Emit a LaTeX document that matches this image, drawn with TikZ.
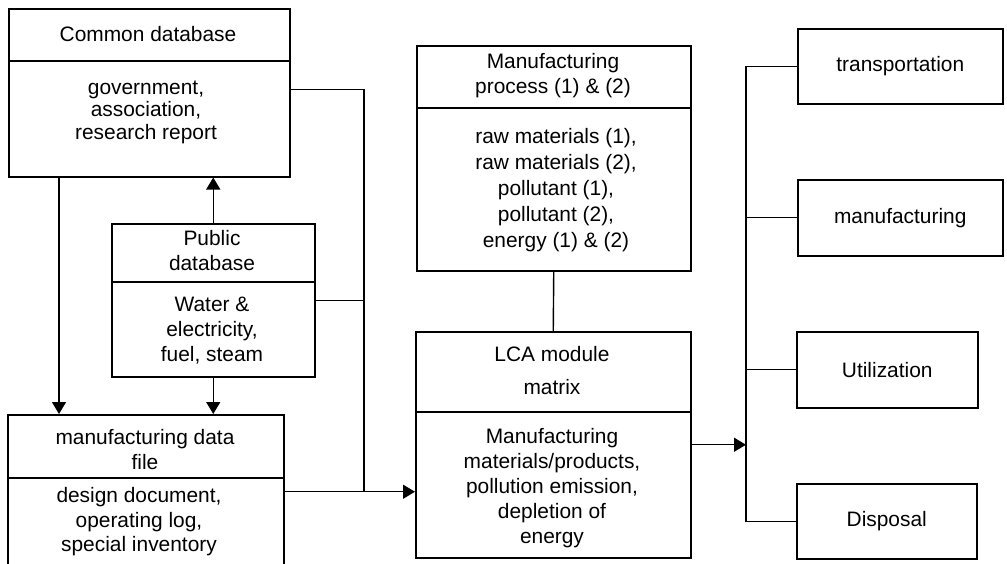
\documentclass[tikz,border=0pt]{standalone}
\usepackage{fontspec}
\setmainfont{Liberation Sans}
\usetikzlibrary{arrows.meta}
\begin{document}
\begin{tikzpicture}[x=1pt,y=-1pt,
  box/.style={draw, line width=1.5pt, inner sep=0pt, anchor=north west},
  lbl/.style={align=center, inner sep=0pt, font=\fontsize{20.9}{25}\selectfont},
  tight/.style={font=\fontsize{20.9}{22.5}\selectfont},
  loose/.style={font=\fontsize{20.9}{26.2}\selectfont},
  rule/.style={line width=1.2pt},
  wire/.style={line width=1.4pt},
  arr/.style={wire, -{Triangle[length=12pt,width=14pt]}},
]
\useasboundingbox (0,0) rectangle (1007,563);
\clip (0,0) rectangle (1007,563);
\fill[white] (0,0) rectangle (1007,563);

% left column: data sources
\node[box, minimum width=281pt, minimum height=168pt] (cdb) at (8,8) {};
\draw[rule] ([yshift=-53pt]cdb.north west) -- ([yshift=-53pt]cdb.north east);
\node[lbl] (cdbT) at (148,34) {Common database};
\node[lbl, tight] (cdbB) at (146,112) {government,\\association,\\research report};

\node[box, minimum width=203pt, minimum height=153pt] (pdb) at (111,223) {};
\draw[rule] ([yshift=-59pt]pdb.north west) -- ([yshift=-59pt]pdb.north east);
\node[lbl] (pdbT) at (212,251) {Public\\database};
\node[lbl] (pdbB) at (212,331) {Water \&\\electricity,\\fuel, steam};

\node[box, minimum width=276pt, minimum height=154pt] (mdf) at (7,414) {};
\draw[rule] ([yshift=-64pt]mdf.north west) -- ([yshift=-64pt]mdf.north east);
\node[lbl] (mdfT) at (145,450) {manufacturing data\\file};
\node[lbl, font=\fontsize{20.9}{24.5}\selectfont] (mdfB) at (139,522) {design document,\\operating log,\\special inventory};

% middle column: process and LCA module
\node[box, minimum width=274pt, minimum height=225pt] (mp) at (416,45) {};
\draw[rule] ([yshift=-63pt]mp.north west) -- ([yshift=-63pt]mp.north east);
\node[lbl] (mpT) at (553,76) {Manufacturing\\process (1) \& (2)};
\node[lbl, loose] (mpB) at (556,190) {raw materials (1),\\raw materials (2),\\pollutant (1),\\pollutant (2),\\energy (1) \& (2)};

\node[box, minimum width=275pt, minimum height=226pt] (lca) at (415,331) {};
\draw[rule] ([yshift=-81pt]lca.north west) -- ([yshift=-81pt]lca.north east);
\node[lbl] (lcaT) at (552,371) {LCA module\\[8pt]matrix};
\node[lbl] (lcaB) at (552,488) {Manufacturing\\materials/products,\\pollution emission,\\depletion of\\energy};

% right column: life-cycle stages
\node[box, lbl, minimum width=205pt, minimum height=75pt] (tr) at (797,28) {transportation};
\node[box, lbl, minimum width=205pt, minimum height=76pt] (mf) at (797,179) {manufacturing};
\node[box, lbl, minimum width=181pt, minimum height=76pt] (ut) at (796,331) {Utilization};
\node[box, lbl, minimum width=180pt, minimum height=75pt] (dp) at (796,483) {Disposal};

% connectors
\coordinate (jn) at (364,491);
\coordinate (bar) at (746,66);

\draw[arr] ([xshift=51pt]cdb.south west) -- ([xshift=52pt]mdf.north west);
\draw[arr] (pdb.north) -- (pdb.north |- cdb.south);
\draw[arr] (pdb.south) -- (pdb.south |- mdf.north);
\draw[wire] ([yshift=3pt]cdb.east) -| (jn);
\draw[wire] (pdb.east) -- (pdb.east -| jn);
\draw[arr] (mdf.east) -- (mdf.east -| lca.west);
\draw[wire] (mp.south) -- (lca.north);

\draw[wire] (tr.west) -- (tr.west -| bar) -- (dp.west -| bar) -- (dp.west);
\draw[wire] (mf.west) -- (mf.west -| bar);
\draw[wire] (ut.west) -- (ut.west -| bar);
\draw[arr] (lca.east) -- (lca.east -| bar);
\end{tikzpicture}
\end{document}
